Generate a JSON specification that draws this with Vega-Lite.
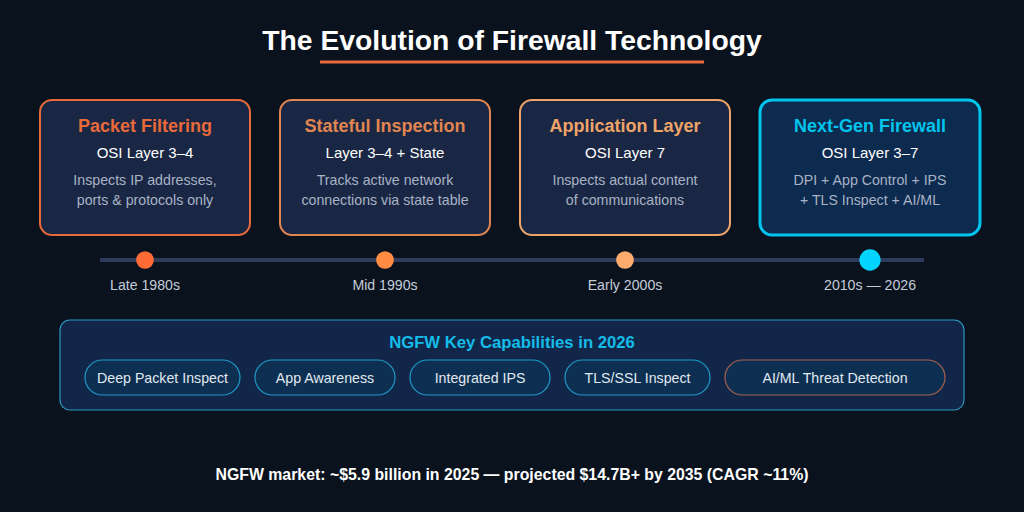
{
  "$schema": "https://vega.github.io/schema/vega-lite/v6.json",
  "description": "The evolution of firewall technology, four stages on a timeline",
  "width": 1024,
  "height": 512,
  "padding": 0,
  "autosize": {"type": "fit", "contains": "padding"},
  "background": "#0a121e",
  "config": {
    "view": {"stroke": null},
    "axis": {"disable": true},
    "legend": {"disable": true},
    "text": {"font": "Liberation Sans", "baseline": "alphabetic", "align": "center"}
  },
  "datasets": {
    "headings": [
      {"role": "title", "text": "The Evolution of Firewall Technology"},
      {"role": "panel", "text": "NGFW Key Capabilities in 2026"},
      {"role": "footer", "text": "NGFW market: ~$5.9 billion in 2025 — projected $14.7B+ by 2035 (CAGR ~11%)"}
    ],
    "stages": [
      {"order": 1, "stage": "Packet Filtering", "osi": "OSI Layer 3–4", "detail1": "Inspects IP addresses,", "detail2": "ports & protocols only", "era": "Late 1980s"},
      {"order": 2, "stage": "Stateful Inspection", "osi": "Layer 3–4 + State", "detail1": "Tracks active network", "detail2": "connections via state table", "era": "Mid 1990s"},
      {"order": 3, "stage": "Application Layer", "osi": "OSI Layer 7", "detail1": "Inspects actual content", "detail2": "of communications", "era": "Early 2000s"},
      {"order": 4, "stage": "Next-Gen Firewall", "osi": "OSI Layer 3–7", "detail1": "DPI + App Control + IPS", "detail2": "+ TLS Inspect + AI/ML", "era": "2010s — 2026"}
    ],
    "pills": [
      {"pill": 1, "capability": "Deep Packet Inspect"},
      {"pill": 2, "capability": "App Awareness"},
      {"pill": 3, "capability": "Integrated IPS"},
      {"pill": 4, "capability": "TLS/SSL Inspect"},
      {"pill": 5, "capability": "AI/ML Threat Detection"}
    ]
  },
  "encoding": {
    "y": {
      "type": "quantitative",
      "axis": null,
      "scale": {
        "domain": [1, 2, 3, 4, 5, 6, 7, 8, 9, 10, 11, 12, 13, 14, 15, 16, 17],
        "range": [50, 62, 100, 132, 158, 185, 205, 235, 260, 290, 320, 348, 360, 383, 395, 410, 480]
      }
    }
  },
  "resolve": {"scale": {"x": "independent", "color": "independent", "fill": "independent", "stroke": "independent", "size": "independent"}},
  "layer": [
    {
      "data": {"name": "headings"},
      "encoding": {
        "x": {"datum": 2, "type": "quantitative", "axis": null, "scale": {"domain": [0, 1, 2, 3, 4], "range": [60, 320, 512, 704, 964]}}
      },
      "layer": [
        {
          "transform": [{"filter": "datum.role == 'title'"}],
          "mark": {"type": "text", "fontSize": 28.3, "fontWeight": "bold", "fill": "#ffffff"},
          "encoding": {"y": {"datum": 1}, "text": {"field": "text"}}
        },
        {
          "transform": [{"filter": "datum.role == 'title'"}],
          "mark": {"type": "rule", "stroke": "#e8693a", "strokeWidth": 3},
          "encoding": {"x": {"datum": 1}, "x2": {"datum": 3}, "y": {"datum": 2}}
        },
        {
          "transform": [{"filter": "datum.role == 'panel'"}],
          "mark": {"type": "rect", "fill": "#12264a", "stroke": "#2b97c0", "strokeWidth": 1.2, "cornerRadius": 10},
          "encoding": {"x": {"datum": 0}, "x2": {"datum": 4}, "y": {"datum": 11}, "y2": {"datum": 16}}
        },
        {
          "transform": [{"filter": "datum.role == 'panel'"}],
          "mark": {"type": "text", "fontSize": 16.7, "fontWeight": "bold", "fill": "#14bce8"},
          "encoding": {"y": {"datum": 12}, "text": {"field": "text"}}
        },
        {
          "transform": [{"filter": "datum.role == 'footer'"}],
          "mark": {"type": "text", "fontSize": 15.85, "fontWeight": "bold", "fill": "#ffffff"},
          "encoding": {"y": {"datum": 17}, "text": {"field": "text"}}
        }
      ]
    },
    {
      "data": {"name": "stages"},
      "encoding": {
        "x": {"field": "order", "type": "quantitative", "axis": null, "scale": {"domain": [0, 1, 2, 3, 4, 5], "range": [100, 145, 385, 625, 870, 924]}}
      },
      "layer": [
        {
          "mark": {
            "type": "rect",
            "cornerRadius": 12,
            "xOffset": {"expr": "datum.order == 4 ? -110 : -105"},
            "x2Offset": {"expr": "datum.order == 4 ? 110 : 105"},
            "fill": {"expr": "datum.order == 4 ? '#0d2a4f' : '#1a2744'"},
            "strokeWidth": {"expr": "datum.order == 4 ? 3 : 2"}
          },
          "encoding": {
            "x2": {"field": "order"},
            "y": {"datum": 3},
            "y2": {"datum": 8},
            "stroke": {"field": "stage", "type": "nominal", "legend": null, "scale": {"domain": ["Packet Filtering", "Stateful Inspection", "Application Layer", "Next-Gen Firewall"], "range": ["#e8693a", "#e08550", "#eea468", "#00c4ec"]}}
          }
        },
        {
          "mark": {"type": "text", "fontSize": 18, "fontWeight": "bold"},
          "encoding": {
            "y": {"datum": 4},
            "text": {"field": "stage"},
            "color": {"field": "stage", "type": "nominal", "legend": null, "scale": {"domain": ["Packet Filtering", "Stateful Inspection", "Application Layer", "Next-Gen Firewall"], "range": ["#e8693a", "#e08550", "#eea468", "#00c4ec"]}}
          }
        },
        {
          "mark": {"type": "text", "fontSize": 15, "fill": "#ffffff"},
          "encoding": {"y": {"datum": 5}, "text": {"field": "osi"}}
        },
        {
          "mark": {"type": "text", "fontSize": 14.2, "fill": "#a8b2c4"},
          "encoding": {"y": {"datum": 6}, "text": {"field": "detail1"}}
        },
        {
          "mark": {"type": "text", "fontSize": 14.2, "fill": "#a8b2c4"},
          "encoding": {"y": {"datum": 7}, "text": {"field": "detail2"}}
        },
        {
          "transform": [{"filter": "datum.order == 1"}],
          "mark": {"type": "rule", "stroke": "#2f3b5c", "strokeWidth": 4},
          "encoding": {"x": {"datum": 0}, "x2": {"datum": 5}, "y": {"datum": 9}}
        },
        {
          "mark": {"type": "point", "shape": "circle", "filled": true, "opacity": 1},
          "encoding": {
            "y": {"datum": 9},
            "size": {"field": "order", "type": "quantitative", "legend": null, "scale": {"domain": [1, 3, 4], "range": [314, 314, 452]}},
            "fill": {"field": "stage", "type": "nominal", "legend": null, "scale": {"domain": ["Packet Filtering", "Stateful Inspection", "Application Layer", "Next-Gen Firewall"], "range": ["#ff6b35", "#ff8c42", "#ffab6e", "#00d4ff"]}}
          }
        },
        {
          "mark": {"type": "text", "fontSize": 14.15, "fill": "#c4ccd8"},
          "encoding": {"y": {"datum": 10}, "text": {"field": "era"}}
        }
      ]
    },
    {
      "data": {"name": "pills"},
      "encoding": {
        "x": {"field": "pill", "type": "quantitative", "axis": null, "scale": {"domain": [1, 2, 3, 4, 5], "range": [162.5, 325, 480, 637.5, 835]}}
      },
      "layer": [
        {
          "mark": {
            "type": "rect",
            "cornerRadius": 17.5,
            "fill": "#0d3052",
            "strokeWidth": 1.2,
            "xOffset": {"expr": "-[77.5, 70, 70, 72.5, 110][datum.pill - 1]"},
            "x2Offset": {"expr": "[77.5, 70, 70, 72.5, 110][datum.pill - 1]"},
            "stroke": {"expr": "datum.pill == 5 ? '#a8604f' : '#1f9ac6'"}
          },
          "encoding": {"x2": {"field": "pill"}, "y": {"datum": 13}, "y2": {"datum": 15}}
        },
        {
          "mark": {"type": "text", "fontSize": 14.2, "fill": "#e0e8f0"},
          "encoding": {"y": {"datum": 14}, "text": {"field": "capability"}}
        }
      ]
    }
  ]
}
